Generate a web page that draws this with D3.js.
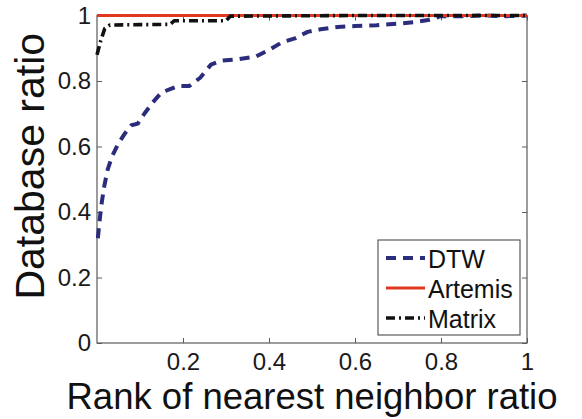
<!DOCTYPE html>
<html><head><meta charset="utf-8">
<script src="https://cdn.jsdelivr.net/npm/d3@7"></script>
<style>
body{margin:0;background:#fff}
svg{display:block}
text{font-family:"Liberation Sans",Arial,Helvetica,sans-serif}
</style>
</head><body>
<script>
// Fraction of the database covered vs. rank of nearest neighbor (as a ratio)
const dtwRank = [0.002,0.005,0.01,0.017,0.025,0.035,0.05,0.065,0.08,0.095,0.11,0.13,0.15,0.17,0.19,0.215,0.24,0.265,0.29,0.33,0.37,0.40,0.43,0.46,0.49,0.52,0.56,0.60,0.65,0.70,0.74,0.77,0.80,0.85,0.90,0.95,1.0];
const dtwRatio = [0.32,0.36,0.42,0.48,0.53,0.57,0.61,0.64,0.665,0.67,0.70,0.735,0.765,0.775,0.785,0.785,0.81,0.85,0.862,0.867,0.875,0.895,0.918,0.93,0.95,0.958,0.965,0.968,0.97,0.975,0.98,0.986,0.998,0.998,1.0,0.998,1.0];

const artemisRank = [0, 1];
const artemisRatio = [1, 1];

const matrixRank = [0,0.008,0.018,0.03,0.10,0.17,0.18,0.30,0.31,0.60,1.0];
const matrixRatio = [0.88,0.92,0.96,0.971,0.972,0.973,0.984,0.984,0.998,1.0,1.0];

const seriesNames = ["DTW","Artemis","Matrix"];
const xTicks = [0.2,0.4,0.6,0.8,1];
const yTicks = [0,0.2,0.4,0.6,0.8,1];
const xTitle = "Rank of nearest neighbor ratio";
const yTitle = "Database ratio";

const W = 582, H = 419;
const m = {left:97, right:55, top:15.5, bottom:76};
const pw = W - m.left - m.right, ph = H - m.top - m.bottom;

const svg = d3.select("body").append("svg").attr("width",W).attr("height",H);
const g = svg.append("g").attr("transform",`translate(${m.left},${m.top})`);

const x = d3.scaleLinear().domain([0,1]).range([0,pw]);
const y = d3.scaleLinear().domain([0,1]).range([ph,0]);

const fmt = d => d3.format("")(d);
const axisColor = "#5a5a5a";

// bottom axis (ticks point inward)
const xa = g.append("g").attr("transform",`translate(0,${ph})`)
  .call(d3.axisBottom(x).tickValues(xTicks).tickSize(-5).tickSizeOuter(0).tickPadding(10).tickFormat(fmt));
// top axis ticks only
const xt = g.append("g")
  .call(d3.axisTop(x).tickValues(xTicks).tickSize(-5).tickSizeOuter(0).tickFormat(""));
// left axis
const ya = g.append("g")
  .call(d3.axisLeft(y).tickValues(yTicks).tickSize(-5).tickSizeOuter(0).tickPadding(6).tickFormat(fmt));
// right axis ticks only
const yr = g.append("g").attr("transform",`translate(${pw},0)`)
  .call(d3.axisRight(y).tickValues(yTicks).tickSize(-5).tickSizeOuter(0).tickFormat(""));

[xa,xt,ya,yr].forEach(a=>{
  a.select(".domain").remove();
  a.selectAll(".tick line").attr("stroke",axisColor).attr("stroke-width",1);
  a.selectAll(".tick text").attr("fill","#1a1a1a").style("font-size","24px")
    .style("font-family","'Liberation Sans',Arial,sans-serif");
});

// plot frame
g.append("rect").attr("x",0).attr("y",0).attr("width",pw).attr("height",ph)
  .attr("fill","none").attr("stroke",axisColor).attr("stroke-width",1.2);

const line = d3.line().x(d=>x(d[0])).y(d=>y(d[1]));

const styles = {
  DTW:     {color:"#2c2c7c", width:4,   dash:"10,7"},
  Artemis: {color:"#e2381f", width:3.2, dash:null},
  Matrix:  {color:"#111111", width:3.6, dash:"9,4,2,4"}
};
const data = {
  DTW: d3.zip(dtwRank, dtwRatio),
  Artemis: d3.zip(artemisRank, artemisRatio),
  Matrix: d3.zip(matrixRank, matrixRatio)
};

seriesNames.forEach(name=>{
  const s = styles[name];
  g.append("path").datum(data[name])
    .attr("d", line)
    .attr("fill","none")
    .attr("stroke", s.color)
    .attr("stroke-width", s.width)
    .attr("stroke-dasharray", s.dash)
    .attr("stroke-linejoin","round");
});

// legend
const lg = svg.append("g");
const lx = 378, ly = 240, lw = 142, lh = 95;
lg.append("rect").attr("x",lx).attr("y",ly).attr("width",lw).attr("height",lh)
  .attr("fill","#fff").attr("stroke",axisColor).attr("stroke-width",1.2);
seriesNames.forEach((name,i)=>{
  const s = styles[name];
  const cy = ly + 18 + i*30;
  lg.append("line").attr("x1",lx+8).attr("x2",lx+47).attr("y1",cy).attr("y2",cy)
    .attr("stroke",s.color).attr("stroke-width",s.width).attr("stroke-dasharray",s.dash);
  lg.append("text").attr("x",lx+50).attr("y",cy+10).text(name)
    .style("font-size","25px").attr("fill","#111");
});

// axis titles
svg.append("text").attr("x", m.left + pw/2).attr("y", 409)
  .attr("text-anchor","middle").style("font-size","36.5px").attr("fill","#111").text(xTitle);
svg.append("text").attr("transform",`translate(44,${m.top + ph/2 - 13}) rotate(-90)`)
  .attr("text-anchor","middle").style("font-size","41px").attr("fill","#111").text(yTitle);
</script>
</body></html>
